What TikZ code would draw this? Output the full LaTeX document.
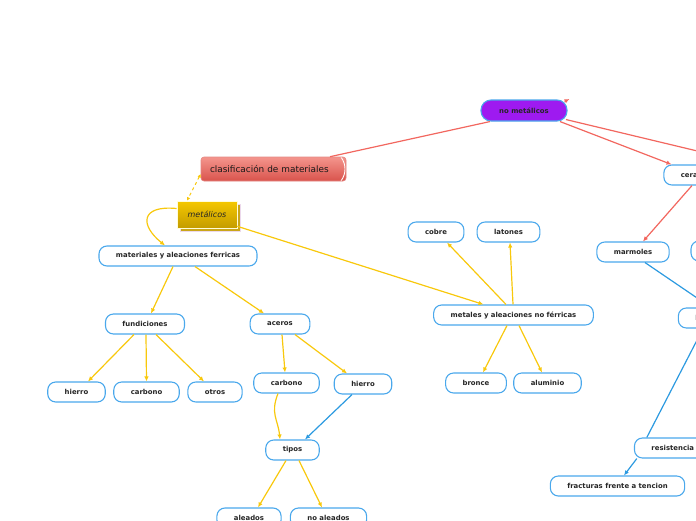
\documentclass[tikz,border=0pt]{standalone}
\usepackage{fontspec}
\setmainfont{DejaVu Sans}
\usetikzlibrary{arrows.meta,shadows}

\definecolor{amarillo}{HTML}{F8C80C}
\definecolor{rojo}{HTML}{F2675F}
\definecolor{azul}{HTML}{2C9AE0}
\definecolor{borde}{HTML}{4AA8EC}
\definecolor{morado}{HTML}{9E1AF0}
\definecolor{rojoA}{HTML}{F4958D}
\definecolor{rojoB}{HTML}{D9534C}
\definecolor{oroA}{HTML}{F5C800}
\definecolor{oroB}{HTML}{C49C00}

\tikzset{
  tema/.style={draw=borde, line width=1.1pt, fill=white, rounded corners=8pt,
    minimum height=20pt, inner xsep=17pt, inner ysep=0pt,
    font=\fontsize{6.9}{8}\selectfont\bfseries, text=black!85},
  flecha/.style={line width=1.2pt, -{Latex[length=5pt,width=4.5pt]}},
  ya/.style={flecha, draw=amarillo},
  ra/.style={flecha, draw=rojo},
  ba/.style={flecha, draw=azul},
}

\begin{document}
\begin{tikzpicture}[x=1pt,y=-1pt]
  \useasboundingbox (0,0) rectangle (696,520);

  % raiz
  \node[draw=rojoB!70, line width=0.6pt, rounded corners=3pt, top color=rojoA, bottom color=rojoB,
    minimum height=24pt, text width=127pt, align=left, inner xsep=9pt,
    font=\fontsize{8.9}{10}\selectfont, text=black!90,
    path picture={\draw[white, line width=0.9pt]
      ([xshift=-5pt]path picture bounding box.north east) to[bend left=35]
      ([xshift=-5pt]path picture bounding box.south east);}]
    (cla) at (273.5,169) {clasificación de materiales};
  \node[draw=borde, line width=1.1pt, fill=morado, rounded corners=10pt, minimum height=21pt,
    minimum width=86pt, font=\fontsize{6.9}{8}\selectfont\bfseries, text=black!85]
    (nom) at (524,110.5) {no metálicos};
  \node[draw=white!85!yellow, line width=0.6pt, top color=oroA, bottom color=oroB,
    minimum width=60pt, minimum height=27pt,
    general shadow={shadow xshift=3pt, shadow yshift=-3pt, fill=oroB!90!white, draw=violet!15, line width=0.8pt},
    font=\fontsize{8}{9}\selectfont\itshape, text=black!85]
    (met) at (207,214.5) {metálicos};

  % ferricas
  \node[tema] (fer) at (178,256) {materiales y aleaciones ferricas};
  \node[tema] (fun) at (145,324) {fundiciones};
  \node[tema] (ace) at (280,324) {aceros};
  \node[tema] (hie1) at (76.5,392) {hierro};
  \node[tema] (car1) at (146.5,392) {carbono};
  \node[tema] (otr) at (215,392) {otros};
  \node[tema] (car2) at (286.5,383) {carbono};
  \node[tema] (hie2) at (363,384) {hierro};
  \node[tema] (tip) at (292.5,450) {tipos};
  \node[tema] (ale) at (249,518) {aleados};
  \node[tema] (noa) at (328.5,518) {no aleados};

  % no ferricas
  \node[tema] (nf) at (513.5,315) {metales y aleaciones no férricas};
  \node[tema] (cob) at (436,232) {cobre};
  \node[tema] (lat) at (508.5,232) {latones};
  \node[tema] (bro) at (476,383) {bronce};
  \node[tema] (alu) at (547.5,383) {aluminio};

  % no metalicos
  \node[tema] (cer) at (700.5,175) {ceramicos};
  \node[tema] (mar) at (633,252) {marmoles};
  \node[tema, minimum width=50pt] (otro) at (716,251) {};
  \node[tema] (lad) at (711,318) {ladrillos};
  \node[tema] (res) at (672.8,448) {resistencia};
  \node[tema] (fra) at (617.5,486) {fracturas frente a tencion};
  \coordinate (fuera) at (760,166);
  \coordinate (pico) at (569.5,99);

  % conexiones
  \draw[rojo, line width=1.2pt] ([xshift=-34pt]nom.south) -- ([xshift=56.5pt]cla.north);
  \draw[rojo, line width=1.2pt] ([xshift=42pt,yshift=2pt]nom.south) -- (fuera);
  \draw[ra] ([xshift=-3pt,yshift=-2pt]nom.north east) -- (pico);
  \draw[ra] ([xshift=36pt]nom.south) -- ([xshift=-29pt]cer.north);
  \draw[ra] ([xshift=-8.5pt]cer.south) -- ([xshift=10pt]mar.north);
  \draw[amarillo, line width=1pt, dashed, {Latex[length=3.5pt,width=3.5pt]}-{Latex[length=3.5pt,width=3.5pt]}]
    ([yshift=-5pt]cla.west) -- ([xshift=-20pt]met.north);
  \draw[ya] ([yshift=6pt]met.west) .. controls (140,205) and +(-25,-20) .. ([xshift=-13pt]fer.north);
  \draw[ya] ([yshift=2pt]met.south east) -- ([xshift=-30pt]nf.north);

  \draw[ya] ([xshift=-5pt]fer.south) -- ([xshift=6pt]fun.north);
  \draw[ya] ([xshift=17pt]fer.south) -- ([xshift=-16pt]ace.north);
  \draw[ya] ([xshift=-11pt]fun.south) -- ([xshift=11.5pt]hie1.north);
  \draw[ya] ([xshift=1pt]fun.south) -- (car1.north);
  \draw[ya] ([xshift=11pt]fun.south) -- ([xshift=-11pt]otr.north);
  \draw[ya] ([xshift=2pt]ace.south) -- ([xshift=-1.5pt]car2.north);
  \draw[ya] ([xshift=15pt]ace.south) -- ([xshift=-16pt]hie2.north);
  \draw[ya] ([xshift=-8.5pt]car2.south) .. controls +(-8,20) and +(-2,-20) .. ([xshift=-12.5pt]tip.north);
  \draw[ba] ([xshift=-11pt]hie2.south) -- ([xshift=12.5pt]tip.north);
  \draw[ya] ([xshift=-6.5pt]tip.south) -- ([xshift=9pt]ale.north);
  \draw[ya] ([xshift=6.5pt]tip.south) -- ([xshift=-6.5pt]noa.north);

  \draw[ya] ([xshift=-7.5pt]nf.north) -- ([xshift=11pt]cob.south);
  \draw[ya] ([xshift=-0.5pt]nf.north) -- ([xshift=1.5pt]lat.south);
  \draw[ya] ([xshift=-6.5pt]nf.south) -- ([xshift=7pt]bro.north);
  \draw[ya] ([xshift=5.5pt]nf.south) -- ([xshift=-5.5pt]alu.north);

  \draw[ba] ([xshift=12pt]mar.south) -- (lad.north);
  \draw[ba] ([xshift=-26pt]res.north) -- ([xshift=-8pt]lad.south);
  \draw[ba] ([xshift=-36pt]res.south) -- ([xshift=6.5pt]fra.north);
\end{tikzpicture}
\end{document}
